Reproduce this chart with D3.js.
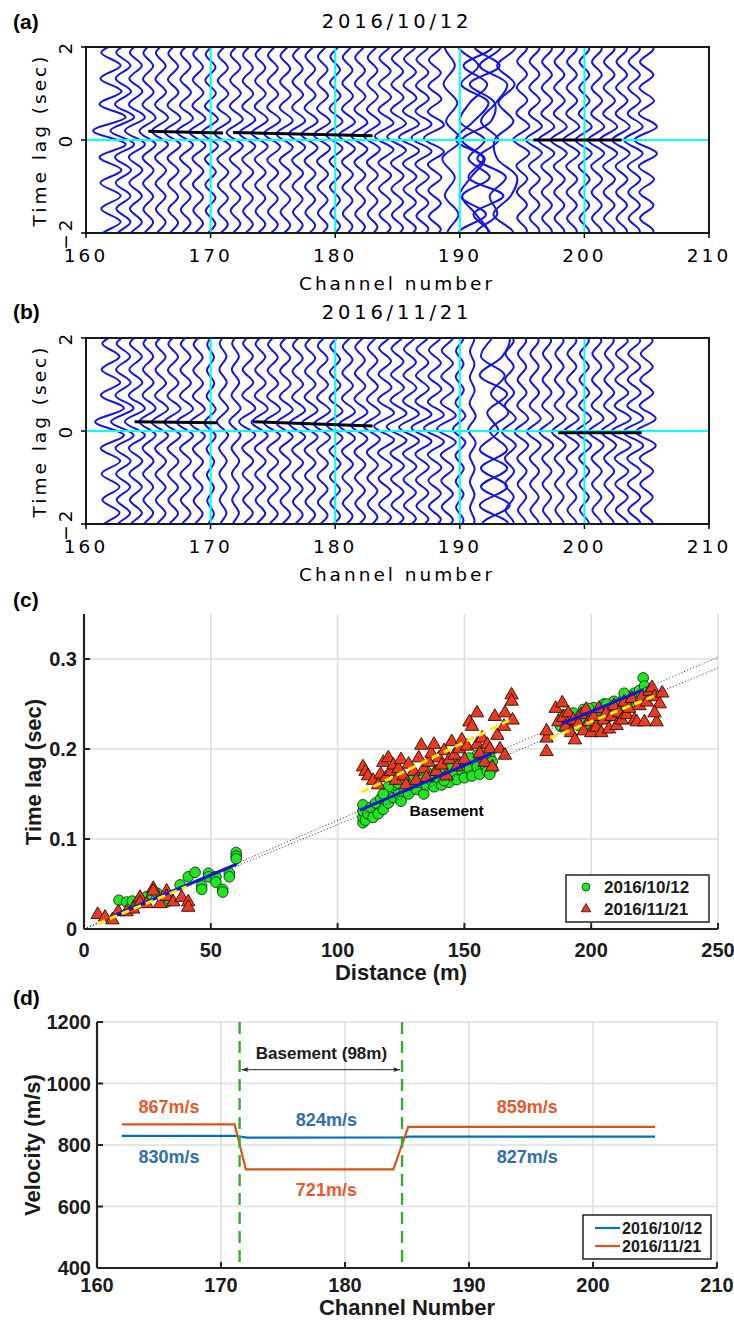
<!DOCTYPE html>
<html>
<head>
<meta charset="utf-8">
<script src="https://cdn.jsdelivr.net/npm/d3@7"></script>
<style>body{margin:0;background:#fff}</style>
</head>
<body>
<svg id="fig" width="734" height="1322"></svg>
<script>
// ---------- data: panels (a) and (b) ----------
// wavelet knots (time lag in s, relative deflection)
const waveT = [-2.8,-2.52,-2.24,-1.96,-1.68,-1.4,-1.12,-0.84,-0.56,-0.28,0,0.28,0.56,0.84,1.12,1.4,1.68,1.96,2.24,2.52,2.8];
const waveV = [-0.6,0.6,-0.6,0.6,-0.6,0.6,-0.65,0.65,-0.7,0.9,-1.1,0.9,-0.7,0.65,-0.65,0.6,-0.6,0.6,-0.6,0.6,-0.6];

// 2016/10/12 regular traces: channel, lag of main lobe, amplitude (channels)
const chanA  = [162,163,164,165,166,167,168,169,170,171,172,173,174,175,176,177,178,179,180,181,182,183,184,185,186,187,188,195,196,197,198,199,200,201,202,203,204,205];
const shiftA = [0.2,0.2,0.2,0.19,0.19,0.18,0.18,0.17,0.16,0.15,0.16,0.15,0.15,0.14,0.13,0.13,0.12,0.11,0.11,0.1,0.09,0.09,0.08,0.07,0.06,0.05,0.04,0.01,0.01,0,0,0,0,0,0,0,0,0];
const ampA   = [1.3,0.95,0.8,0.65,0.65,0.65,0.65,0.65,0.65,0.65,0.65,0.65,0.65,0.65,0.65,0.65,0.65,0.65,0.65,0.65,0.65,0.65,0.75,0.75,0.8,0.8,0.8,0.65,0.65,0.65,0.65,0.65,0.65,0.65,0.7,0.7,0.75,0.9];
// disturbed traces near channels 189-194 (knots every 0.4 s)
const irrT = [-2.4,-2,-1.6,-1.2,-0.8,-0.4,0,0.4,0.8,1.2,1.6,2,2.4];
const irrChanA = [189.3,190.5,191.1,191.6,192.6,193.6];
const irrValA = [
  [0.4,-0.3,0.6,-0.5,0.3,-0.7,0.8,-0.4,0.5,-0.6,0.3,-0.5,0.4],
  [0.9,-0.6,1.6,-0.5,0.4,1.5,-0.8,0.6,1.8,-0.4,1.0,-0.6,0.2],
  [-0.6,1.2,0.2,-0.9,1.3,-0.4,0.9,-1.1,-0.3,1.1,-0.8,1.5,-0.5],
  [-1.2,0.8,-0.5,1.9,-0.9,0.3,-1.4,0.9,1.2,-0.8,1.6,-0.4,1.8],
  [0.6,-1.3,0.4,-0.2,1.1,-1.2,0.5,-0.9,0.3,1.2,-1.0,0.7,-1.3],
  [-0.4,0.7,-0.9,0.5,1.0,-0.6,-0.8,0.7,-0.5,0.8,-0.6,0.9,-0.3]
];
// picked moveout segments [ch1, lag1, ch2, lag2]
const pickA = [[165,0.19,171,0.15],[171.8,0.16,183,0.09],[195.9,0.0,203,0.0]];

// 2016/11/21
const chanB  = [162,163,164,165,166,167,168,169,170,171,172,173,174,175,176,177,178,179,180,181,182,183,184,185,186,187,188,189,190,191,194,195,196,197,198,199,200,201,202,203,204,205];
const shiftB = [0.2,0.2,0.2,0.2,0.19,0.19,0.19,0.18,0.18,0.2,0.2,0.2,0.19,0.18,0.17,0.16,0.16,0.15,0.14,0.13,0.12,0.11,0.1,0.09,0.08,0.07,0.06,0.05,0.04,0.03,-0.02,-0.02,-0.02,-0.02,-0.02,-0.02,-0.02,-0.02,-0.02,-0.02,-0.02,-0.02];
const ampB   = [1.15,0.9,0.8,0.65,0.65,0.65,0.65,0.6,0.45,0.45,0.45,0.65,0.65,0.65,0.65,0.65,0.65,0.65,0.65,0.65,0.65,0.65,0.8,0.8,0.8,0.8,0.8,0.75,0.5,0.3,0.55,0.55,0.55,0.55,0.55,0.6,0.6,0.6,0.6,0.8,0.8,0.8];
const irrChanB = [192.8,192.8];
const irrValB = [
  [1.1,-1.0,1.2,-1.1,1.0,-1.2,0.3,-0.6,1.0,-1.2,0.6,1.2,-0.8],
  [-1.0,1.1,-1.2,1.0,-1.1,1.0,-0.4,1.1,-0.3,0.8,-1.1,-0.2,1.0]
];
const pickB = [[163.9,0.2,170.5,0.18],[173.4,0.2,183,0.11],[197.9,-0.035,204.6,-0.035]];

const traceTicksX = [160,170,180,190,200,210];
const traceTicksY = [-2,0,2];
const cyanChan = [170,180,190,200];

// ---------- data: panel (c) ----------
const green1 = [[13.8,0.032],[16.8,0.030],[19.1,0.031],[21,0.028],[24.7,0.036],[28.7,0.040],[32.6,0.030],[33.5,0.034],[37.9,0.049],[41.1,0.058],[43.8,0.063],[46.4,0.048],[46.4,0.044],[49.1,0.062],[49.1,0.058],[52,0.058],[52,0.052],[54.7,0.044],[54.7,0.041],[57.3,0.062],[57.3,0.058],[60,0.085],[60,0.081],[60,0.078]];
const red1 = [[5.4,0.016],[8.3,0.013],[11.2,0.010],[13.5,0.019],[16.8,0.019],[19.4,0.022],[22.1,0.035],[22.1,0.029],[24.7,0.028],[27.3,0.045],[27.3,0.042],[30,0.028],[32.6,0.042],[32.6,0.036],[35.2,0.030],[38.5,0.035],[41.1,0.030],[41.1,0.024]];
const green2 = [[110,0.118],[110,0.124],[110,0.131],[110,0.138],[111,0.121],[112,0.128],[113,0.135],[114,0.124],[115,0.140],[116,0.128],[117,0.145],[118,0.133],[119,0.150],[120,0.140],[121,0.155],[122,0.146],[123,0.160],[124,0.150],[125,0.142],[126,0.157],[127,0.165],[128,0.150],[129,0.160],[130,0.168],[131,0.155],[132,0.163],[133,0.170],[134,0.150],[135,0.160],[136,0.172],[137,0.165],[138,0.158],[139,0.175],[140,0.167],[141,0.160],[142,0.178],[143,0.170],[144,0.163],[145,0.180],[146,0.173],[147,0.166],[148,0.182],[149,0.176],[150,0.168],[151,0.184],[152,0.178],[153,0.170],[154,0.186],[155,0.180],[156,0.172],[157,0.190],[158,0.183],[159,0.175],[160,0.192],[161,0.186],[161,0.178],[158,0.196],[155,0.193],[152,0.190],[147,0.187],[120,0.158],[124,0.162],[118,0.150],[135,0.175],[142,0.165],[160,0.172]];
const red2 = [[110,0.180],[111,0.175],[112,0.170],[114,0.165],[116,0.160],[117,0.172],[118,0.185],[119,0.168],[120,0.190],[121,0.175],[122,0.182],[123,0.165],[124,0.178],[125,0.188],[126,0.170],[127,0.160],[128,0.183],[130,0.175],[131,0.165],[132,0.190],[133,0.204],[134,0.178],[135,0.168],[136,0.185],[137,0.195],[138,0.205],[139,0.175],[140,0.190],[141,0.182],[142,0.198],[143,0.170],[144,0.188],[145,0.208],[146,0.193],[147,0.180],[148,0.200],[149,0.210],[150,0.188],[151,0.203],[152,0.230],[153,0.225],[155,0.240],[155,0.205],[156,0.195],[157,0.212],[158,0.185],[159,0.205],[160,0.200],[161,0.180],[162,0.236],[163,0.215],[164,0.200],[166,0.193],[166,0.240],[165.6,0.225],[168.6,0.260],[168.6,0.253],[169,0.232]];
const green3 = [[188,0.225],[188,0.232],[189,0.238],[190,0.228],[191,0.222],[192,0.235],[193,0.240],[194,0.230],[195,0.226],[196,0.238],[197,0.244],[198,0.233],[199,0.228],[200,0.240],[201,0.246],[202,0.236],[203,0.231],[204,0.244],[205,0.250],[206,0.240],[207,0.236],[208,0.248],[209,0.253],[210,0.243],[211,0.239],[212,0.252],[213,0.257],[214,0.246],[215,0.258],[216,0.250],[217,0.262],[218,0.255],[219,0.265],[220,0.260],[220.5,0.279],[221,0.270],[222,0.263],[213,0.262],[206,0.250],[199,0.245]];
const red3 = [[182.4,0.197],[182.4,0.212],[182.4,0.220],[186,0.245],[187,0.230],[188.6,0.251],[189,0.235],[190,0.225],[191,0.240],[192,0.218],[193,0.232],[193.6,0.210],[195,0.228],[196,0.238],[197,0.220],[198,0.244],[199,0.230],[200,0.218],[201,0.236],[202,0.224],[203,0.245],[204,0.218],[205,0.232],[206,0.240],[207,0.222],[208,0.236],[209,0.248],[210,0.226],[211,0.240],[212,0.232],[213,0.252],[214,0.238],[215,0.245],[216,0.256],[217,0.232],[218,0.230],[219,0.248],[220,0.258],[221,0.230],[222,0.252],[223,0.264],[224,0.268],[225,0.258],[225.8,0.230],[227,0.250],[228,0.262],[225,0.240]];
// linear fits [d1, t1, d2, t2]
const fitGreen = [[12,0.015,60.2,0.072],[108.8,0.132,160.8,0.195],[188.4,0.228,220.6,0.266]];
const fitRed = [[5.4,0.006,40.5,0.047],[109.5,0.152,169.3,0.234],[183.8,0.212,225.8,0.260]];
const refSlopes = [0.302/250, 0.290/250];
const distTicks = [0,50,100,150,200,250];
const lagTicks = [0,0.1,0.2,0.3];

// ---------- data: panel (d) ----------
const velChan1 = [162,171.1,172.1,184.8,185.1,205];
const velVal1  = [830,830,824,825,827,827];
const velChan2 = [162,171.1,172,183.9,185.1,205];
const velVal2  = [867,867,721,721,859,859];
const basementEdges = [171.5,184.6];
const velLabels = [
  {t:"867m/s", ch:165.8, v:904, s:1},{t:"830m/s", ch:165.8, v:741, s:0},
  {t:"824m/s", ch:178.5, v:862, s:0},{t:"721m/s", ch:178.5, v:634, s:1},
  {t:"859m/s", ch:194.7, v:904, s:1},{t:"827m/s", ch:194.7, v:741, s:0}
];
const velTicksX = [160,170,180,190,200,210];
const velTicksY = [400,600,800,1000,1200];
const dates = ["2016/10/12","2016/11/21"];

// ---------- drawing ----------
const svg = d3.select("#fig");
const fGmt = "'DejaVu Sans', Verdana, sans-serif";
const fBold = "'Liberation Sans', Arial, Helvetica, sans-serif";
const lineColors = ["#0072BD", "#D95319"];

function panelLetter(txt, y) {
  svg.append("text").attr("x", 13).attr("y", y).text(txt)
    .attr("font-family", fBold).attr("font-weight", "bold").attr("font-size", 21);
}

function tracePanel(o) {
  const x = d3.scaleLinear().domain([160, 210]).range([86, 709]);
  const y = d3.scaleLinear().domain([-2, 2]).range([o.bottom, o.top]);
  const g = svg.append("g");
  g.append("clipPath").attr("id", "clip" + o.tag).append("rect")
    .attr("x", 86).attr("y", o.top).attr("width", 623).attr("height", o.bottom - o.top);
  const plot = g.append("g").attr("clip-path", `url(#clip${o.tag})`);

  const smooth = d3.line().curve(d3.curveNatural);
  plot.selectAll("path.reg").data(o.chans).join("path")
    .attr("class", "reg")
    .attr("d", (c, i) => smooth(waveT.map((t, k) => [x(c + o.amps[i] * waveV[k]), y(t + o.shifts[i])])))
    .attr("fill", "none").attr("stroke", "#1414e6").attr("stroke-width", 2);

  const wobbly = d3.line().curve(d3.curveCatmullRom);
  plot.selectAll("path.irr").data(o.irrChans).join("path")
    .attr("class", "irr")
    .attr("d", (c, i) => wobbly(irrT.map((t, k) => [x(c + o.irrVals[i][k]), y(t)])))
    .attr("fill", "none").attr("stroke", "#1414e6").attr("stroke-width", 2);

  // cyan reference lines
  plot.selectAll("line.cv").data(cyanChan).join("line")
    .attr("x1", d => x(d)).attr("x2", d => x(d)).attr("y1", o.top).attr("y2", o.bottom)
    .attr("stroke", "#00ffff").attr("stroke-width", 2);
  plot.append("line").attr("x1", 86).attr("x2", 709).attr("y1", y(0)).attr("y2", y(0))
    .attr("stroke", "#00ffff").attr("stroke-width", 2);

  // picked lags
  plot.selectAll("line.pick").data(o.picks).join("line")
    .attr("x1", d => x(d[0])).attr("y1", d => y(d[1])).attr("x2", d => x(d[2])).attr("y2", d => y(d[3]))
    .attr("stroke", "#000").attr("stroke-width", 3);

  g.append("rect").attr("x", 86).attr("y", o.top).attr("width", 623).attr("height", o.bottom - o.top)
    .attr("fill", "none").attr("stroke", "#0e1c1c").attr("stroke-width", 2);

  // ticks
  g.selectAll("line.tx").data(traceTicksX).join("line")
    .attr("x1", d => x(d)).attr("x2", d => x(d)).attr("y1", o.bottom).attr("y2", o.bottom + 5)
    .attr("stroke", "#000").attr("stroke-width", 1.5);
  g.selectAll("line.ty").data(traceTicksY).join("line")
    .attr("x1", 86).attr("x2", 81).attr("y1", d => y(d)).attr("y2", d => y(d))
    .attr("stroke", "#000").attr("stroke-width", 1.5);

  const txt = sel => sel.attr("font-family", fGmt).attr("font-size", 18.5).attr("letter-spacing", 3).attr("fill", "#000");
  g.selectAll("text.tx").data(traceTicksX).join("text")
    .attr("x", d => x(d)).attr("y", o.bottom + 29).attr("text-anchor", "middle").text(d => d).call(txt);
  g.selectAll("text.ty").data(traceTicksY).join("text")
    .attr("transform", d => `translate(72,${y(d)}) rotate(-90)`).attr("text-anchor", "middle")
    .text(d => d < 0 ? "\u2212" + Math.abs(d) : d).call(txt);
  g.append("text").attr("x", 397).attr("y", o.bottom + 57).attr("text-anchor", "middle")
    .text("Channel number").call(txt);
  g.append("text").attr("transform", `translate(46,${(o.top + o.bottom) / 2}) rotate(-90)`)
    .attr("text-anchor", "middle").text("Time lag (sec)").call(txt);
  g.append("text").attr("x", 397).attr("y", o.top - 19).attr("text-anchor", "middle")
    .text(o.title).call(txt).attr("font-size", 19.5).attr("letter-spacing", 3.8);
}

panelLetter("(a)", 29);
tracePanel({tag: "a", top: 47, bottom: 233, title: dates[0], chans: chanA, shifts: shiftA, amps: ampA,
  irrChans: irrChanA, irrVals: irrValA, picks: pickA});
panelLetter("(b)", 319);
tracePanel({tag: "b", top: 338, bottom: 524, title: dates[1], chans: chanB, shifts: shiftB, amps: ampB,
  irrChans: irrChanB, irrVals: irrValB, picks: pickB});

// ---------- panel (c) ----------
panelLetter("(c)", 607);
{
  const x = d3.scaleLinear().domain([0, 250]).range([84, 718]);
  const y = d3.scaleLinear().domain([0, 0.35]).range([929, 614]);
  const g = svg.append("g");
  const grid = "#dedede";
  g.selectAll("line.gx").data(distTicks.slice(1)).join("line")
    .attr("x1", d => x(d)).attr("x2", d => x(d)).attr("y1", y(0.35)).attr("y2", y(0))
    .attr("stroke", grid).attr("stroke-width", 1.6);
  g.selectAll("line.gy").data(lagTicks.slice(1)).join("line")
    .attr("x1", x(0)).attr("x2", x(250)).attr("y1", d => y(d)).attr("y2", d => y(d))
    .attr("stroke", grid).attr("stroke-width", 1.6);

  const pt = sel => sel.attr("cx", d => x(d[0])).attr("cy", d => y(d[1])).attr("r", 5.3)
    .attr("fill", "#1fe61f").attr("stroke", "#123312").attr("stroke-width", 0.9);
  const tri = d3.symbol(d3.symbolTriangle, 78);
  const tr = sel => sel.attr("transform", d => `translate(${x(d[0])},${y(d[1])})`).attr("d", tri)
    .attr("fill", "#ec3a1f").attr("stroke", "#2a0a05").attr("stroke-width", 0.9);
  g.selectAll("circle.g").data([...green1, ...green2, ...green3]).join("circle").call(pt);
  g.selectAll("path.r").data([...red1, ...red2, ...red3]).join("path").call(tr);

  // reference lines from origin
  g.selectAll("line.ref").data(refSlopes).join("line")
    .attr("x1", x(0)).attr("y1", y(0)).attr("x2", x(250)).attr("y2", d => y(d * 250))
    .attr("stroke", "#333").attr("stroke-width", 0.9).attr("stroke-dasharray", "1.2,2");
  g.selectAll("line.fg").data(fitGreen).join("line")
    .attr("x1", d => x(d[0])).attr("y1", d => y(d[1])).attr("x2", d => x(d[2])).attr("y2", d => y(d[3]))
    .attr("stroke", "#1212dd").attr("stroke-width", 3);
  g.selectAll("line.fr").data(fitRed).join("line")
    .attr("x1", d => x(d[0])).attr("y1", d => y(d[1])).attr("x2", d => x(d[2])).attr("y2", d => y(d[3]))
    .attr("stroke", "#ffee00").attr("stroke-width", 3).attr("stroke-dasharray", "8,5");

  g.append("text").attr("x", x(143)).attr("y", y(0.126)).attr("text-anchor", "middle").text("Basement")
    .attr("font-family", fBold).attr("font-weight", "bold").attr("font-size", 15.5);

  // axes
  g.append("line").attr("x1", x(0)).attr("x2", x(250)).attr("y1", y(0)).attr("y2", y(0)).attr("stroke", "#222").attr("stroke-width", 2.2);
  g.append("line").attr("x1", x(0)).attr("x2", x(0)).attr("y1", y(0.35)).attr("y2", y(0)).attr("stroke", "#222").attr("stroke-width", 2.2);
  g.selectAll("line.tkx").data(distTicks).join("line")
    .attr("x1", d => x(d)).attr("x2", d => x(d)).attr("y1", y(0)).attr("y2", y(0) - 6).attr("stroke", "#222").attr("stroke-width", 2);
  g.selectAll("line.tky").data(lagTicks).join("line")
    .attr("x1", x(0)).attr("x2", x(0) + 6).attr("y1", d => y(d)).attr("y2", d => y(d)).attr("stroke", "#222").attr("stroke-width", 2);
  const bt = sel => sel.attr("font-family", fBold).attr("font-weight", "bold").attr("font-size", 20).attr("fill", "#1a1a1a");
  g.selectAll("text.tkx").data(distTicks).join("text")
    .attr("x", d => x(d)).attr("y", 957).attr("text-anchor", "middle").text(d => d).call(bt);
  g.selectAll("text.tky").data(lagTicks).join("text")
    .attr("x", 77).attr("y", d => y(d) + 7).attr("text-anchor", "end").text(d => d === 0 ? "0" : d.toFixed(1)).call(bt);
  g.append("text").attr("x", 401).attr("y", 980).attr("text-anchor", "middle").text("Distance (m)").call(bt).attr("font-size", 22);
  g.append("text").attr("transform", "translate(41,772) rotate(-90)").attr("text-anchor", "middle")
    .text("Time lag (sec)").call(bt).attr("font-size", 22);

  // legend
  const lg = g.append("g");
  lg.append("rect").attr("x", 566).attr("y", 875).attr("width", 143).attr("height", 47)
    .attr("fill", "#fff").attr("stroke", "#222").attr("stroke-width", 1.5);
  lg.append("circle").attr("cx", 586).attr("cy", 887).attr("r", 4).attr("fill", "#1fe61f").attr("stroke", "#123312").attr("stroke-width", 0.8);
  lg.append("path").attr("transform", "translate(586,909)").attr("d", d3.symbol(d3.symbolTriangle, 40))
    .attr("fill", "#ec3a1f").attr("stroke", "#2a0a05").attr("stroke-width", 0.8);
  lg.selectAll("text").data(dates).join("text")
    .attr("x", 604).attr("y", (d, i) => 893 + i * 22).text(d => d).call(bt).attr("font-size", 17);
}

// ---------- panel (d) ----------
panelLetter("(d)", 1005);
{
  const x = d3.scaleLinear().domain([160, 210]).range([97, 717]);
  const y = d3.scaleLinear().domain([400, 1200]).range([1268, 1022]);
  const g = svg.append("g");
  const grid = "#dedede";
  g.selectAll("line.gx").data(velTicksX.slice(1)).join("line")
    .attr("x1", d => x(d)).attr("x2", d => x(d)).attr("y1", y(1200)).attr("y2", y(400))
    .attr("stroke", grid).attr("stroke-width", 1.6);
  g.selectAll("line.gy").data(velTicksY.slice(1)).join("line")
    .attr("x1", x(160)).attr("x2", x(210)).attr("y1", d => y(d)).attr("y2", d => y(d))
    .attr("stroke", grid).attr("stroke-width", 1.6);

  const ln = d3.line().x(d => x(d[0])).y(d => y(d[1]));
  g.append("path").attr("d", ln(velChan1.map((c, i) => [c, velVal1[i]])))
    .attr("fill", "none").attr("stroke", lineColors[0]).attr("stroke-width", 2.2);
  g.append("path").attr("d", ln(velChan2.map((c, i) => [c, velVal2[i]])))
    .attr("fill", "none").attr("stroke", lineColors[1]).attr("stroke-width", 2.2);

  g.selectAll("line.edge").data(basementEdges).join("line")
    .attr("x1", d => x(d)).attr("x2", d => x(d)).attr("y1", y(1200)).attr("y2", y(400))
    .attr("stroke", "#3aaa35").attr("stroke-width", 2.4).attr("stroke-dasharray", "12,7");

  // width arrow
  const defs = svg.append("defs");
  defs.append("marker").attr("id", "ah").attr("viewBox", "0 0 10 10").attr("refX", 10).attr("refY", 5)
    .attr("markerWidth", 7).attr("markerHeight", 7).attr("orient", "auto-start-reverse")
    .append("path").attr("d", "M0,1.5L10,5L0,8.5L2.5,5Z").attr("fill", "#222");
  g.append("line").attr("x1", x(basementEdges[0]) + 2).attr("x2", x(basementEdges[1]) - 2)
    .attr("y1", y(1045)).attr("y2", y(1045)).attr("stroke", "#222").attr("stroke-width", 1)
    .attr("marker-start", "url(#ah)").attr("marker-end", "url(#ah)");
  const bt = sel => sel.attr("font-family", fBold).attr("font-weight", "bold").attr("fill", "#1a1a1a");
  g.append("text").attr("x", x(178.1)).attr("y", y(1080)).attr("text-anchor", "middle")
    .text("Basement (98m)").call(bt).attr("font-size", 17);

  g.selectAll("text.vl").data(velLabels).join("text")
    .attr("x", d => x(d.ch)).attr("y", d => y(d.v)).attr("text-anchor", "middle").text(d => d.t)
    .call(bt).attr("font-size", 18).attr("fill", d => d.s ? "#e8582a" : "#2f6db5");

  // axes
  g.append("line").attr("x1", x(160)).attr("x2", x(210)).attr("y1", y(400)).attr("y2", y(400)).attr("stroke", "#222").attr("stroke-width", 2.2);
  g.append("line").attr("x1", x(160)).attr("x2", x(160)).attr("y1", y(1200)).attr("y2", y(400)).attr("stroke", "#222").attr("stroke-width", 2.2);
  g.selectAll("line.tkx").data(velTicksX).join("line")
    .attr("x1", d => x(d)).attr("x2", d => x(d)).attr("y1", y(400)).attr("y2", y(400) - 6).attr("stroke", "#222").attr("stroke-width", 2);
  g.selectAll("line.tky").data(velTicksY).join("line")
    .attr("x1", x(160)).attr("x2", x(160) + 6).attr("y1", d => y(d)).attr("y2", d => y(d)).attr("stroke", "#222").attr("stroke-width", 2);
  g.selectAll("text.tkx").data(velTicksX).join("text")
    .attr("x", d => x(d)).attr("y", 1292).attr("text-anchor", "middle").text(d => d).call(bt).attr("font-size", 20);
  g.selectAll("text.tky").data(velTicksY).join("text")
    .attr("x", 91).attr("y", d => y(d) + 7).attr("text-anchor", "end").text(d => d).call(bt).attr("font-size", 20);
  g.append("text").attr("x", 407).attr("y", 1315).attr("text-anchor", "middle").text("Channel Number").call(bt).attr("font-size", 22);
  g.append("text").attr("transform", "translate(40,1145) rotate(-90)").attr("text-anchor", "middle")
    .text("Velocity (m/s)").call(bt).attr("font-size", 22);

  // legend
  const lg = g.append("g");
  lg.append("rect").attr("x", 583).attr("y", 1215).attr("width", 128).attr("height", 44)
    .attr("fill", "#fff").attr("stroke", "#222").attr("stroke-width", 1.5);
  lg.selectAll("line").data(dates).join("line")
    .attr("x1", 595).attr("x2", 620).attr("y1", (d, i) => 1228 + i * 18).attr("y2", (d, i) => 1228 + i * 18)
    .attr("stroke", (d, i) => lineColors[i]).attr("stroke-width", 2.2);
  lg.selectAll("text").data(dates).join("text")
    .attr("x", 622).attr("y", (d, i) => 1234 + i * 18).text(d => d).call(bt).attr("font-size", 16);
}
</script>
</body>
</html>
